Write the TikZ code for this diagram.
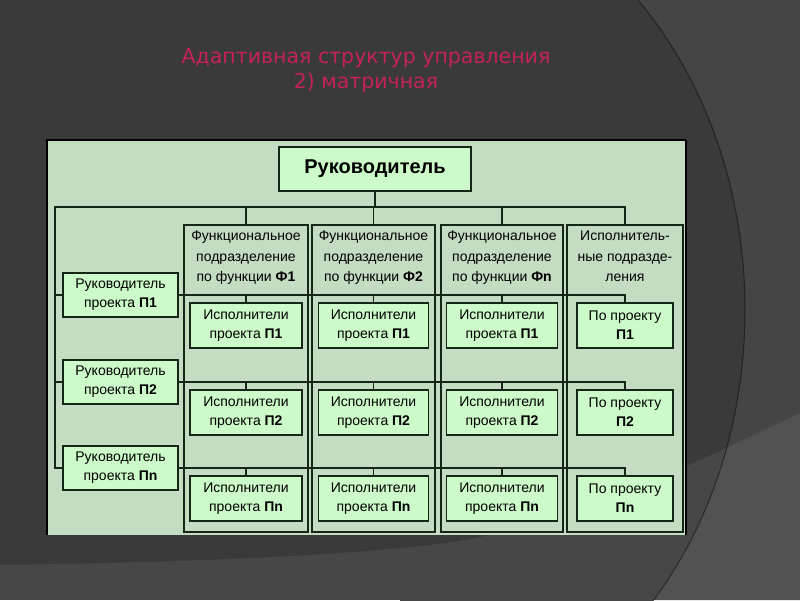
\documentclass[tikz,border=0pt]{standalone}
\usepackage{fontspec}
\setmainfont{Liberation Sans}
\newfontfamily\titlefont{DejaVu Sans}
\definecolor{slide}{RGB}{58,58,58}
\definecolor{slidelight}{RGB}{69,69,69}
\definecolor{titlered}{RGB}{196,34,88}
\definecolor{panel}{RGB}{196,220,194}
\definecolor{boxfill}{RGB}{204,250,200}
\definecolor{ink}{RGB}{22,38,22}

\begin{document}
\begin{tikzpicture}[x=1pt,y=-1pt,
  box/.style={draw=ink,line width=1.8pt,fill=boxfill,inner sep=0pt,align=center,
    font=\fontsize{14}{19}\selectfont},
  colbox/.style={draw=ink,line width=1.2pt,fill=panel,inner sep=0pt,
    minimum width=#1,minimum height=307pt},
  hdr/.style={anchor=north,align=center,inner sep=0pt,font=\fontsize{14}{20.5}\selectfont},
  link/.style={draw=ink,line width=1.4pt}]
\useasboundingbox (0,0) rectangle (800,600);

% slide background
\fill[slide] (0,0) rectangle (800,600);
\begin{scope}
\clip (400,0) rectangle (800,600);
\fill[slidelight,even odd rule]
(0,0) rectangle (800,600)
(400,310) ellipse [x radius=345pt,y radius=428pt];
\end{scope}
\fill[white,opacity=0.07]
(0,565) .. controls (200,562) and (330,556) .. (430,545)
.. controls (560,530) and (680,470) .. (800,413)
-- (800,600) -- (0,600) -- cycle;
\begin{scope}
\clip (400,0) rectangle (800,600);
\draw[black,opacity=0.45,line width=1pt]
(400,310) ellipse [x radius=345pt,y radius=428pt];
\end{scope}

\node[align=center,text=titlered,font=\titlefont\fontsize{20.5}{25}\selectfont]
(title) at (366,71) {Адаптивная структур управления\\2) матричная};

% panel
\fill[panel] (47,140) rectangle (686,535);
\draw[black,line width=2.5pt]
(47,535) -- (47,140) -- (686,140);
\draw[black,line width=1.2pt]
(686,140) -- (686,535);

\node[box,minimum width=192pt,minimum height=44pt,
  font=\bfseries\fontsize{20}{24}\selectfont] (boss) at (375,169) {Руководитель};

\foreach \j/\x/\w in {1/246/124,2/373.5/123,3/502/122,4/625/116}
  \node[colbox=\w pt] (dep\j) at (\x,378.5) {};

\node[hdr] (hdr1) at ([yshift=-6.5pt]dep1.north)
{Функциональное\\подразделение\\по функции \textbf{Ф1}};
\node[hdr] (hdr2) at ([yshift=-6.5pt]dep2.north)
{Функциональное\\подразделение\\по функции \textbf{Ф2}};
\node[hdr] (hdr3) at ([yshift=-6.5pt]dep3.north)
{Функциональное\\подразделение\\по функции \textbf{Фn}};
\node[hdr] (hdr4) at ([yshift=-6.5pt]dep4.north)
{Исполнитель-\\ные подразде-\\ления};

\foreach \i/\y/\p in {1/295/П1,2/382/П2,3/468/Пn}{
  \node[box,minimum width=115pt,minimum height=44pt] (mgr\i) at (120.5,\y)
  {Руководитель\\проекта \textbf{\p}};
  \foreach \j/\x/\w in {1/246/112,2/373.5/110,3/502/111}
    \node[box,minimum width=\w pt,minimum height=45pt] (ex\j\i) at (\x,\y+30.5)
    {Исполнители\\проекта \textbf{\p}};
  \node[box,minimum width=96pt,minimum height=45pt] (ex4\i) at (625,\y+30.5)
  {По проекту\\\textbf{\p}};
}

\coordinate (busL) at (55,207);
\draw[link] (boss.south) -- (boss.south |- busL);
\draw[link] (mgr3.west) -| (busL) -| (dep4.north);
\foreach \j in {1,2,3}
  \draw[link] (dep\j.north) -- (dep\j.north |- busL);
\foreach \i in {1,2}
  \draw[link] (mgr\i.west) -- (mgr\i.west -| busL);
\foreach \i in {1,2,3}{
  \draw[link] (mgr\i.east) -| (ex4\i.north);
  \foreach \j in {1,2,3}
    \draw[link] (ex\j\i.north) -- (ex\j\i.north |- mgr\i.east);
}
\end{tikzpicture}
\end{document}
